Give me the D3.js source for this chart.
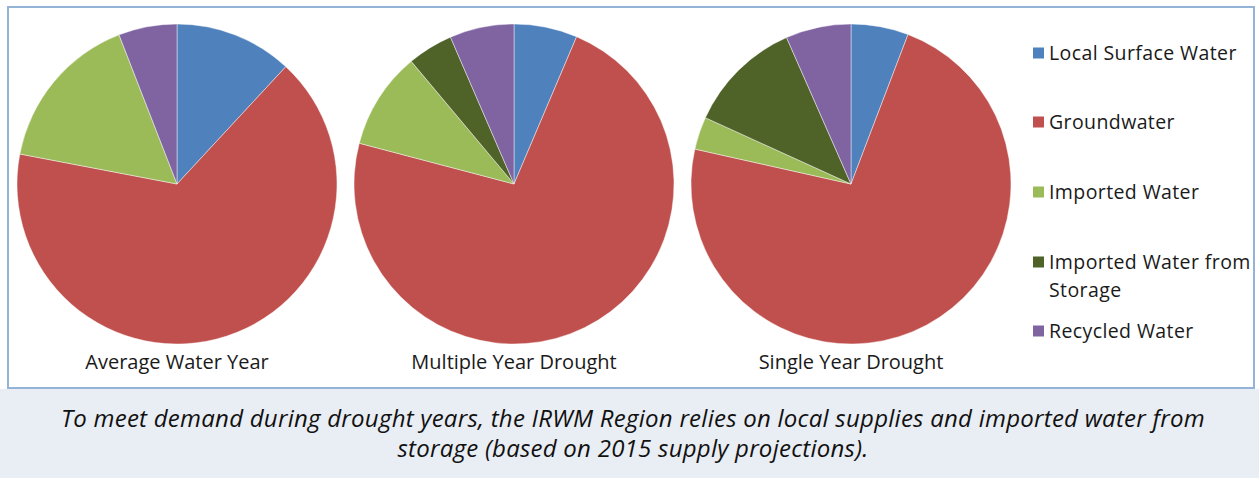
<!DOCTYPE html>
<html>
<head>
<meta charset="utf-8">
<script src="https://cdn.jsdelivr.net/npm/d3@7"></script>
<style>
  html, body { margin: 0; padding: 0; background: #ffffff; }
  svg { display: block; }
</style>
</head>
<body>
<svg id="chart" width="1259" height="478"></svg>
<script>
// Water supply sources (share of total supply, %)
const sources = ["Local Surface Water", "Groundwater", "Imported Water", "Imported Water from Storage", "Recycled Water"];
const scenarios = ["Average Water Year", "Multiple Year Drought", "Single Year Drought"];
const averageYear = [11.9, 66.1, 16.1, 0, 5.9];
const multipleYearDrought = [6.4, 72.7, 9.8, 4.6, 6.5];
const singleYearDrought = [5.8, 72.7, 3.3, 11.6, 6.6];
const sourceColors = ["#4F81BD", "#C0504D", "#9BBB59", "#4F6228", "#8064A2"];
const captionLines = [
  "To meet demand during drought years, the IRWM Region relies on local supplies and imported water from",
  "storage (based on 2015 supply projections)."
];

const seriesByScenario = [averageYear, multipleYearDrought, singleYearDrought];

const svg = d3.select("#chart");
const W = 1259, H = 478;
const font = "'Open Sans', 'DejaVu Sans', sans-serif";

// caption band
svg.append("rect")
  .attr("x", 0).attr("y", 389).attr("width", W).attr("height", H - 389)
  .attr("fill", "#E9EDF4");

// chart frame
svg.append("rect")
  .attr("x", 8).attr("y", 7).attr("width", 1246).attr("height", 381)
  .attr("fill", "#ffffff")
  .attr("stroke", "#93B3D7").attr("stroke-width", 2);

const color = d3.scaleOrdinal().domain(sources).range(sourceColors);

const centerX = d3.scalePoint().domain(scenarios).range([177, 851]);
const cy = 184, radius = 160;

const pie = d3.pie().sort(null).value(d => d.value);
const arc = d3.arc().innerRadius(0).outerRadius(radius);

scenarios.forEach((name, i) => {
  const data = sources.map((s, j) => ({ source: s, value: seriesByScenario[i][j] }));
  const g = svg.append("g")
    .attr("transform", `translate(${centerX(name)},${cy})`);
  g.selectAll("path")
    .data(pie(data).filter(d => d.data.value > 0))
    .join("path")
    .attr("d", arc)
    .attr("fill", d => color(d.data.source))
    .attr("stroke", "#ffffff")
    .attr("stroke-opacity", 0.55)
    .attr("stroke-width", 0.8);

  svg.append("text")
    .attr("x", centerX(name))
    .attr("y", 369)
    .attr("text-anchor", "middle")
    .attr("font-family", font)
    .attr("font-size", 20)
    .attr("fill", "#1a1a1a")
    .text(name);
});

// legend
const legendRows = [
  { source: sources[0], y: 53, lines: ["Local Surface Water"] },
  { source: sources[1], y: 122, lines: ["Groundwater"] },
  { source: sources[2], y: 192, lines: ["Imported Water"] },
  { source: sources[3], y: 262, lines: ["Imported Water from", "Storage"] },
  { source: sources[4], y: 331, lines: ["Recycled Water"] }
];
const legend = svg.append("g");
legendRows.forEach(r => {
  legend.append("rect")
    .attr("x", 1033).attr("y", r.y - 5.5)
    .attr("width", 11).attr("height", 11)
    .attr("fill", color(r.source));
  r.lines.forEach((ln, k) => {
    legend.append("text")
      .attr("x", 1049)
      .attr("y", r.y + 7 + k * 28)
      .attr("font-family", font)
      .attr("font-size", 19.5)
      .attr("letter-spacing", 0.4)
      .attr("fill", "#1a1a1a")
      .text(ln);
  });
});

// caption
captionLines.forEach((ln, k) => {
  svg.append("text")
    .attr("x", 633)
    .attr("y", 427 + k * 30)
    .attr("text-anchor", "middle")
    .attr("font-family", font)
    .attr("font-style", "italic")
    .attr("font-size", 24)
    .attr("letter-spacing", 0.25)
    .attr("fill", "#111111")
    .text(ln);
});
</script>
</body>
</html>
